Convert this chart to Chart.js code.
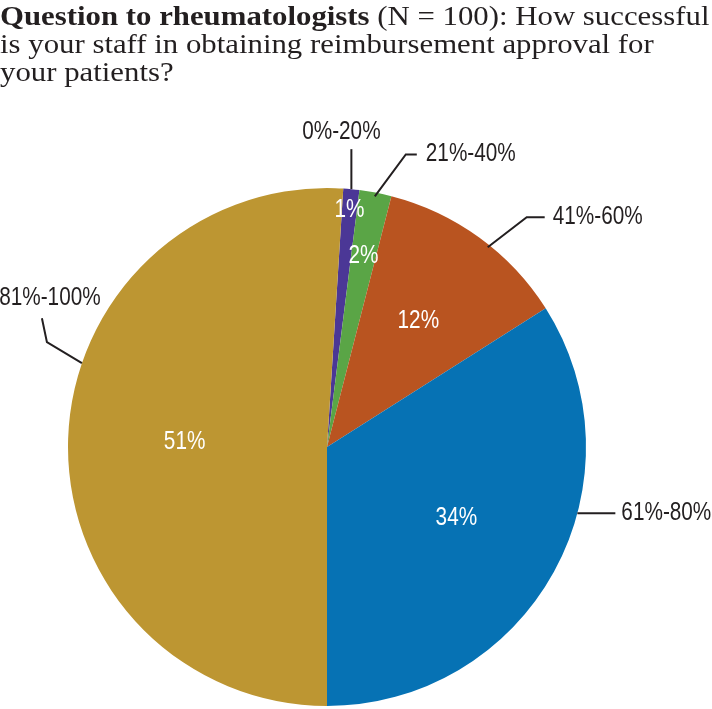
<!DOCTYPE html>
<html>
<head>
<meta charset="utf-8">
<script src="https://cdn.jsdelivr.net/npm/chart.js@4.4.1/dist/chart.umd.min.js"></script>
<style>
  html, body { margin: 0; padding: 0; background: #fff; }
  #wrap { position: relative; width: 712px; height: 709px; overflow: hidden; }
  #title {
    position: absolute; left: 0; top: 2px; width: 712px;
    font-family: "Liberation Serif", serif; font-size: 28px; line-height: 28px;
    color: #231f20; white-space: nowrap;
    transform: scaleX(1.1); transform-origin: 0 0;
  }
  #title b { font-weight: bold; }
  canvas { position: absolute; left: 0; top: 0; }
</style>
</head>
<body>
<div id="wrap">
  <canvas id="pie" width="712" height="709"></canvas>
  <div id="title"><b>Question to rheumatologists</b> (N = 100): How successful<br>is your staff in obtaining reimbursement approval for<br>your patients?</div>
</div>
<script>
const categories = ["0%-20%", "21%-40%", "41%-60%", "61%-80%", "81%-100%"];
const shares = [1, 2, 12, 34, 51];
const sliceColors = ["#4b3796", "#5aa546", "#b95420", "#0672b4", "#bd9632"];

// where the white % text sits (fraction of radius)
const innerPos = [0.92, 0.75, 0.6, 0.57, 0.55];

// leader lines: anchor on the arc, then relative segments, then the text
const leaders = [
  { frac: 0.5, r: 1.0, path: [[0, -40]], text: { dx: -10, dy: -17, align: "center" } },
  { frac: 0.5, r: 0.985, path: [[31, -42], [11, 0]], text: { dx: 9, dy: 0, align: "left" } },
  { frac: 0.565, r: 0.99, path: [[39, -30], [18, 0]], text: { dx: 8, dy: 0, align: "left" } },
  { frac: 0.386, r: 1.0, path: [[38, 0]], text: { dx: 6, dy: 0, align: "left" } },
  { frac: 0.593, r: 1.0, path: [[-35, -21], [-5, -24]], text: { dx: 8, dy: -20, align: "center" } },
];

const labelFont = "25px 'Liberation Sans', Arial, sans-serif";
const narrow = 0.83; // fake a condensed face

const total = shares.reduce((a, b) => a + b, 0);
const beforeLast = total - shares[shares.length - 1];
// last slice begins at the bottom of the pie
const rotation = 180 - (360 * beforeLast) / total;

function narrowText(ctx, text, x, y, align) {
  ctx.save();
  ctx.translate(x, y);
  ctx.scale(narrow, 1);
  ctx.textAlign = align;
  ctx.fillText(text, 0, 0);
  ctx.restore();
}

const pieLabels = {
  id: "pieLabels",
  afterDatasetsDraw(chart) {
    const ctx = chart.ctx;
    const arcs = chart.getDatasetMeta(0).data;
    ctx.save();
    ctx.font = labelFont;
    ctx.textBaseline = "middle";
    arcs.forEach((arc, i) => {
      const { x, y, startAngle, endAngle, outerRadius } = arc.getProps(
        ["x", "y", "startAngle", "endAngle", "outerRadius"], true);
      // inner percentage
      const mid = (startAngle + endAngle) / 2;
      const ir = innerPos[i] * outerRadius;
      ctx.fillStyle = "#ffffff";
      narrowText(ctx, shares[i] + "%", x + ir * Math.cos(mid), y + ir * Math.sin(mid), "center");

      // leader line + category
      const ld = leaders[i];
      const a = startAngle + ld.frac * (endAngle - startAngle);
      let px = x + ld.r * outerRadius * Math.cos(a);
      let py = y + ld.r * outerRadius * Math.sin(a);
      ctx.strokeStyle = "#231f20";
      ctx.lineWidth = 2;
      ctx.beginPath();
      ctx.moveTo(px, py);
      ld.path.forEach(([dx, dy]) => {
        px += dx;
        py += dy;
        ctx.lineTo(px, py);
      });
      ctx.stroke();
      ctx.fillStyle = "#231f20";
      narrowText(ctx, categories[i], px + ld.text.dx, py + ld.text.dy, ld.text.align);
    });
    ctx.restore();
  },
};

const ctx = document.getElementById("pie").getContext("2d");
const chart = new Chart(ctx, {
  type: "pie",
  data: {
    labels: categories,
    datasets: [
      {
        data: shares,
        backgroundColor: sliceColors,
        borderWidth: 0,
      },
    ],
  },
  options: {
    responsive: false,
    animation: false,
    rotation: rotation,
    layout: { padding: { top: 188, bottom: 3, left: 68, right: 126 } },
    plugins: {
      legend: { display: false },
      tooltip: { enabled: false },
      title: { display: false },
    },
  },
  plugins: [pieLabels],
});
</script>
</body>
</html>
